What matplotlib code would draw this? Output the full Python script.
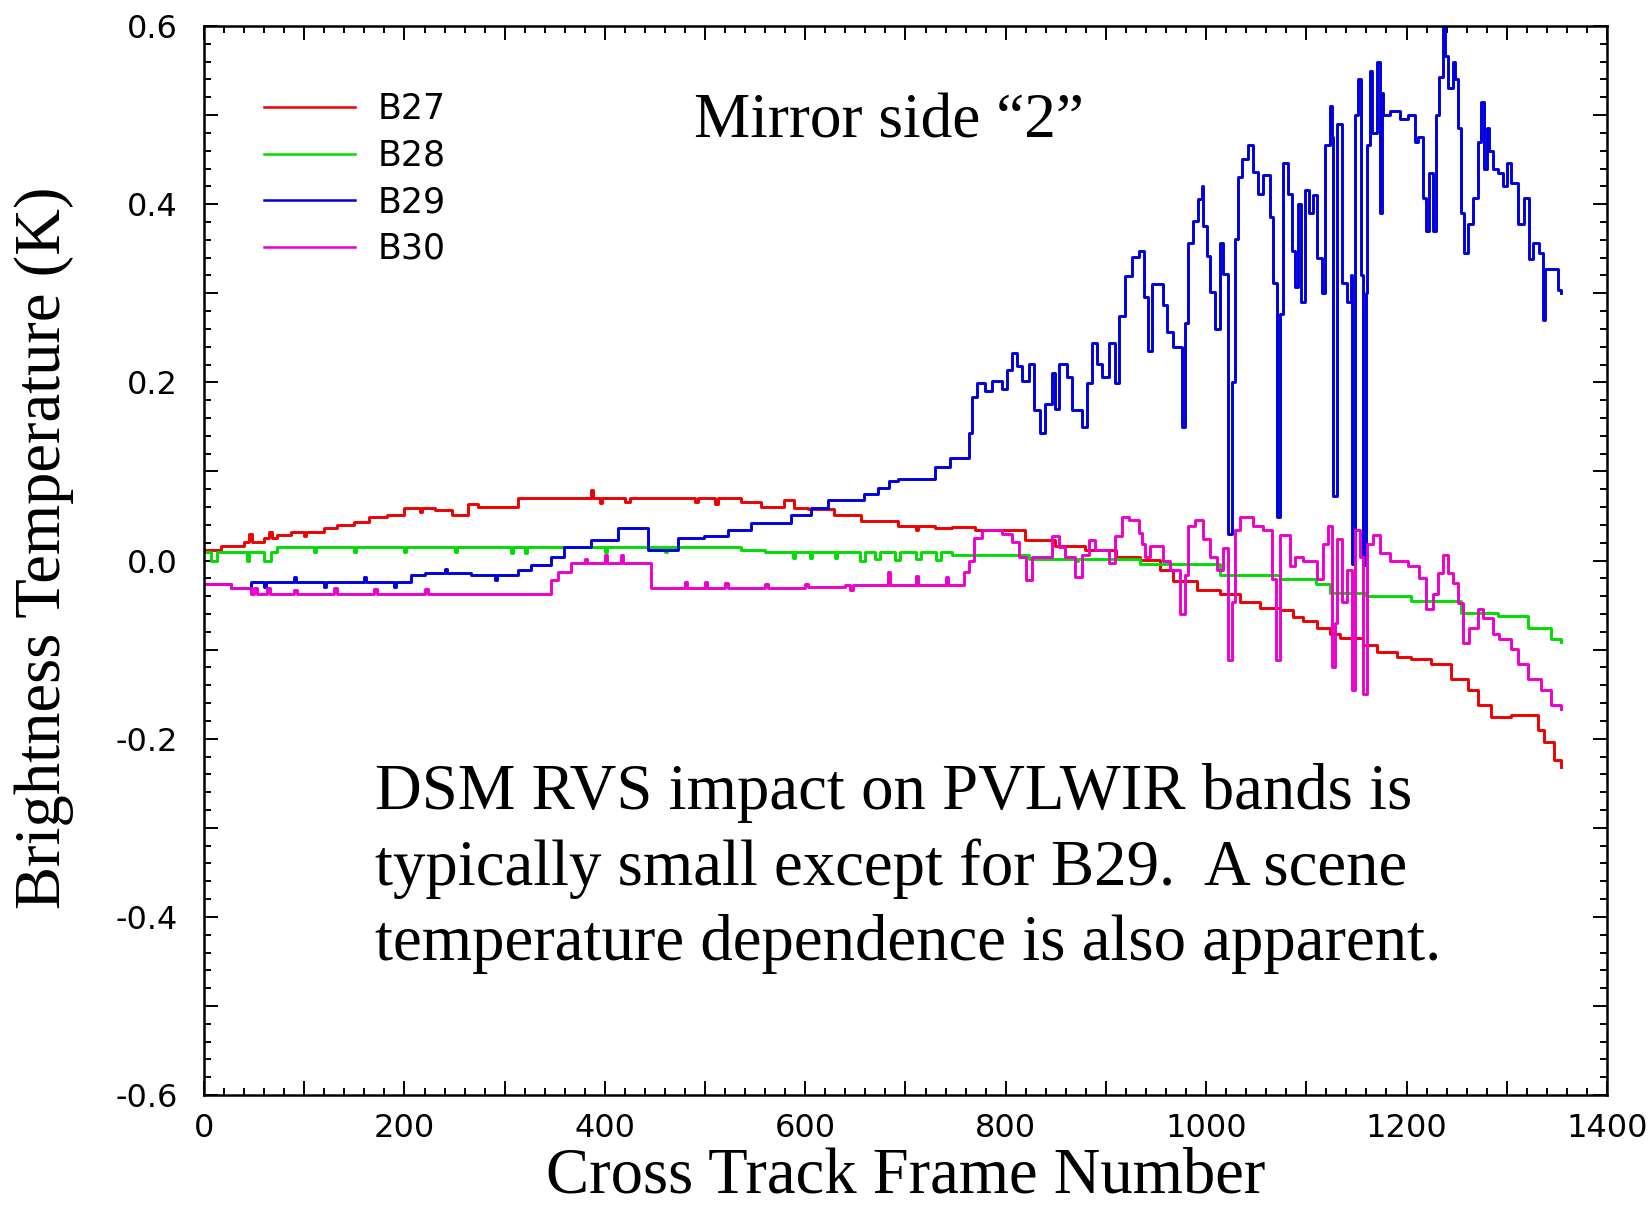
import matplotlib
matplotlib.use("Agg")
import matplotlib.pyplot as plt
from matplotlib.ticker import MultipleLocator, FuncFormatter
from matplotlib.lines import Line2D

plt.rcParams['axes.unicode_minus'] = False

# ---- data: frame breakpoints and brightness-temperature differences (K) ----
b27_frame = [0, 17, 40, 45, 48, 60, 65, 68, 73, 87, 100, 102, 120, 133, 150, 165, 183, 200, 215, 217,
             230, 247, 263, 273, 313, 386, 388, 395, 397, 420, 425, 490, 493, 510, 513, 536, 556, 579,
             589, 603, 629, 656, 693, 710, 712, 729, 746, 769, 819, 849, 879, 910, 934, 954, 967, 991,
             1014, 1034, 1054, 1074, 1087, 1097, 1111, 1124, 1134, 1157, 1171, 1191, 1204, 1224, 1244,
             1261, 1271, 1284, 1304, 1331, 1337, 1347, 1354]
b27_value = [0.012, 0.016, 0.021, 0.030, 0.021, 0.025, 0.032, 0.025, 0.029, 0.032, 0.028, 0.032, 0.036,
             0.040, 0.043, 0.049, 0.051, 0.059, 0.054, 0.059, 0.057, 0.051, 0.064, 0.060, 0.070, 0.079,
             0.070, 0.065, 0.070, 0.066, 0.070, 0.066, 0.070, 0.064, 0.070, 0.066, 0.060, 0.068, 0.059,
             0.058, 0.051, 0.044, 0.039, 0.034, 0.039, 0.036, 0.038, 0.034, 0.023, 0.016, 0.012, 0.004,
             0.001, -0.011, -0.023, -0.033, -0.038, -0.046, -0.053, -0.056, -0.063, -0.068, -0.076,
             -0.083, -0.087, -0.095, -0.103, -0.108, -0.111, -0.116, -0.133, -0.145, -0.162, -0.176,
             -0.173, -0.190, -0.204, -0.224, -0.232]

b28_frame = [0, 7, 13, 43, 45, 60, 67, 73, 110, 112, 150, 152, 200, 202, 250, 252, 306, 308, 320, 322,
             400, 402, 460, 462, 536, 560, 588, 590, 605, 607, 630, 632, 655, 660, 670, 675, 690, 695,
             710, 715, 730, 735, 746, 823, 870, 872, 934, 1014, 1074, 1110, 1124, 1160, 1204, 1254,
             1291, 1321, 1344, 1354]
b28_value = [0.010, -0.001, 0.010, 0.000, 0.010, -0.001, 0.010, 0.0155, 0.010, 0.0155, 0.010, 0.0155,
             0.010, 0.0155, 0.010, 0.0155, 0.008, 0.0155, 0.008, 0.0155, 0.010, 0.0155, 0.010, 0.0155,
             0.012, 0.010, 0.003, 0.010, 0.003, 0.010, 0.003, 0.010, 0.000, 0.010, 0.002, 0.010, 0.001,
             0.010, 0.002, 0.010, 0.001, 0.010, 0.006, 0.002, 0.000, 0.002, -0.004, -0.016, -0.021,
             -0.026, -0.036, -0.040, -0.045, -0.059, -0.062, -0.076, -0.088, -0.091]

b29_frame = [0, 27, 47, 60, 62, 90, 92, 120, 122, 160, 162, 190, 192, 207, 220, 240, 242, 266, 290, 292,
             313, 326, 346, 359, 386, 413, 443, 473, 499, 523, 546, 586, 606, 623, 659, 673, 684, 693,
             729, 744, 763, 766, 771, 779, 786, 796, 801, 806, 811, 816, 823, 828, 834, 839, 846, 849,
             853, 861, 866, 876, 881, 886, 891, 896, 903, 909, 913, 919, 926, 933, 938, 942, 946, 957,
             961, 967, 976, 979, 982, 987, 992, 996, 997, 1001, 1004, 1009, 1014, 1017, 1022, 1026,
             1029, 1032, 1036, 1042, 1047, 1052, 1057, 1064, 1067, 1071, 1074, 1077, 1082, 1086, 1089,
             1092, 1095, 1099, 1103, 1107, 1111, 1116, 1119, 1124, 1126, 1127, 1131, 1136, 1141, 1145,
             1146, 1149, 1152, 1155, 1157, 1160, 1161, 1164, 1166, 1171, 1174, 1176, 1177, 1184, 1194,
             1201, 1208, 1211, 1216, 1219, 1222, 1226, 1229, 1232, 1236, 1238, 1241, 1246, 1248, 1251,
             1254, 1257, 1261, 1266, 1271, 1274, 1277, 1280, 1282, 1286, 1291, 1296, 1300, 1304, 1311,
             1317, 1322, 1326, 1332, 1336, 1338, 1351, 1354]
b29_value = [-0.026, -0.031, -0.024, -0.030, -0.024, -0.018, -0.024, -0.030, -0.024, -0.018, -0.024,
             -0.030, -0.024, -0.016, -0.0145, -0.010, -0.0145, -0.016, -0.022, -0.016, -0.011, -0.005,
             0.004, 0.0155, 0.023, 0.036, 0.012, 0.025, 0.027, 0.034, 0.042, 0.051, 0.059, 0.068, 0.075,
             0.081, 0.089, 0.092, 0.105, 0.115, 0.143, 0.184, 0.199, 0.190, 0.202, 0.193, 0.214, 0.233,
             0.218, 0.202, 0.221, 0.169, 0.143, 0.176, 0.210, 0.170, 0.221, 0.206, 0.169, 0.150, 0.199,
             0.244, 0.221, 0.206, 0.244, 0.199, 0.274, 0.319, 0.341, 0.348, 0.296, 0.235, 0.310, 0.287,
             0.257, 0.240, 0.150, 0.267, 0.357, 0.381, 0.406, 0.421, 0.376, 0.342, 0.302, 0.260, 0.357,
             0.322, 0.030, 0.200, 0.361, 0.431, 0.451, 0.466, 0.436, 0.411, 0.433, 0.386, 0.312, 0.049,
             0.277, 0.446, 0.411, 0.347, 0.307, 0.400, 0.290, 0.416, 0.390, 0.410, 0.340, 0.300, 0.466,
             0.510, 0.476, 0.073, 0.490, 0.312, 0.290, 0.320, -0.004, 0.500, 0.540, 0.320, -0.005, 0.300,
             0.466, 0.550, 0.480, 0.560, 0.390, 0.525, 0.500, 0.505, 0.496, 0.500, 0.470, 0.475, 0.407,
             0.370, 0.435, 0.370, 0.500, 0.543, 0.600, 0.566, 0.530, 0.560, 0.540, 0.486, 0.390, 0.345,
             0.378, 0.407, 0.470, 0.515, 0.440, 0.486, 0.460, 0.440, 0.435, 0.420, 0.446, 0.424, 0.378,
             0.407, 0.339, 0.356, 0.345, 0.270, 0.327, 0.304, 0.300]

b30_frame = [0, 27, 47, 50, 53, 63, 66, 90, 93, 130, 133, 170, 173, 220, 223, 266, 346, 353, 366, 380,
             382, 400, 402, 416, 418, 446, 480, 482, 500, 502, 520, 523, 560, 563, 600, 603, 640, 645,
             648, 683, 685, 710, 712, 740, 742, 758, 763, 768, 776, 796, 806, 813, 820, 826, 846, 853,
             859, 869, 876, 883, 889, 903, 909, 916, 923, 933, 936, 939, 944, 957, 964, 974, 979, 982,
             989, 997, 1004, 1011, 1017, 1022, 1026, 1029, 1034, 1047, 1057, 1066, 1070, 1074, 1084,
             1089, 1097, 1111, 1117, 1122, 1126, 1129, 1131, 1136, 1141, 1146, 1149, 1154, 1157, 1161,
             1167, 1174, 1184, 1201, 1212, 1219, 1226, 1231, 1236, 1241, 1246, 1251, 1256, 1262, 1271,
             1276, 1286, 1292, 1304, 1311, 1321, 1334, 1344, 1354]
b30_value = [-0.026, -0.031, -0.037, -0.031, -0.037, -0.031, -0.037, -0.033, -0.037, -0.031, -0.037,
             -0.032, -0.037, -0.032, -0.037, -0.037, -0.022, -0.013, -0.003, 0.002, -0.003, 0.006,
             -0.003, 0.006, -0.003, -0.031, -0.024, -0.031, -0.024, -0.031, -0.025, -0.031, -0.026,
             -0.031, -0.026, -0.030, -0.027, -0.033, -0.027, -0.013, -0.027, -0.017, -0.027, -0.018,
             -0.027, -0.013, 0.000, 0.025, 0.034, 0.030, 0.021, 0.004, -0.022, 0.004, 0.027, 0.015,
             0.004, -0.018, 0.006, 0.023, 0.012, -0.003, 0.027, 0.049, 0.046, 0.031, 0.019, 0.004,
             0.016, -0.001, -0.011, -0.060, -0.016, 0.039, 0.046, 0.024, 0.004, -0.011, 0.014, -0.112,
             -0.046, 0.034, 0.049, 0.039, 0.034, -0.021, -0.112, 0.029, -0.006, 0.004, -0.001, -0.021,
             0.019, 0.039, -0.120, -0.070, 0.024, -0.046, -0.011, -0.145, 0.034, 0.004, -0.150, 0.019,
             0.029, 0.009, -0.001, -0.006, -0.020, -0.054, -0.037, -0.014, 0.006, -0.014, -0.025,
             -0.048, -0.093, -0.076, -0.054, -0.065, -0.082, -0.088, -0.099, -0.116, -0.133, -0.145,
             -0.162, -0.167]

band_names = ["B27", "B28", "B29", "B30"]
band_colors = ["#ee0000", "#00dd00", "#0000dd", "#ee00cc"]

x_ticks_labeled = [0, 200, 400, 600, 800, 1000, 1200, 1400]
y_ticks_labeled = [-0.6, -0.4, -0.2, 0.0, 0.2, 0.4, 0.6]

note_lines = ["DSM RVS impact on PVLWIR bands is",
              "typically small except for B29.  A scene",
              "temperature dependence is also apparent."]

# ---- figure ----
fig = plt.figure(figsize=(16.51, 12.06), dpi=100)
ax = fig.add_axes([0.1236, 0.092, 0.8497, 0.8864])

series = [(b27_frame, b27_value), (b28_frame, b28_value),
          (b29_frame, b29_value), (b30_frame, b30_value)]
for (fr, val), name, col in zip(series, band_names, band_colors):
    ax.plot(fr, val, drawstyle="steps-post", color=col, lw=2.1, label=name)

ax.set_xlim(0, 1400)
ax.set_ylim(-0.6, 0.6)

ax.xaxis.set_major_locator(MultipleLocator(100))
ax.xaxis.set_minor_locator(MultipleLocator(20))
ax.yaxis.set_major_locator(MultipleLocator(0.1))
ax.yaxis.set_minor_locator(MultipleLocator(0.02))


def fmt_x(v, pos):
    iv = int(round(v))
    return str(iv) if iv in x_ticks_labeled else ""


def fmt_y(v, pos):
    for t in y_ticks_labeled:
        if abs(v - t) < 1e-6:
            return "%.1f" % t
    return ""


ax.xaxis.set_major_formatter(FuncFormatter(fmt_x))
ax.yaxis.set_major_formatter(FuncFormatter(fmt_y))

ax.tick_params(which="both", direction="in", top=True, right=True, width=1.4, color="black")
ax.tick_params(which="major", length=10)
ax.tick_params(which="minor", length=5)
ax.tick_params(axis="y", which="major", pad=19)
ax.tick_params(axis="x", which="major", pad=13)
for lab in ax.get_xticklabels() + ax.get_yticklabels():
    lab.set_fontfamily("DejaVu Sans")
    lab.set_fontsize(23)
for sp in ax.spines.values():
    sp.set_linewidth(1.8)

serif = "Liberation Serif"
ax.set_xlabel("Cross Track Frame Number", family=serif, fontsize=46.5, labelpad=2)
ax.set_ylabel("Brightness Temperature (K)", family=serif, fontsize=46.5)
ax.yaxis.set_label_coords(-0.093, 0.512)

ax.text(0.349, 0.896, "Mirror side \u201c2\u201d", transform=ax.transAxes,
        family=serif, fontsize=45.5, va="baseline", ha="left")
for line, ybase in zip(note_lines, [0.2675, 0.1964, 0.1263]):
    ax.text(0.122, ybase, line, transform=ax.transAxes, family=serif, fontsize=46.6,
            va="baseline", ha="left")

handles = [Line2D([], [], color=c, lw=1.8) for c in band_colors]
leg = ax.legend(handles, band_names, loc="upper left", bbox_to_anchor=(0.033, 0.951),
                frameon=False, handlelength=2.6, handletextpad=0.66, labelspacing=0.36,
                prop={"family": "DejaVu Sans", "size": 25}, borderaxespad=0)

fig.savefig("out.png", dpi=100)
